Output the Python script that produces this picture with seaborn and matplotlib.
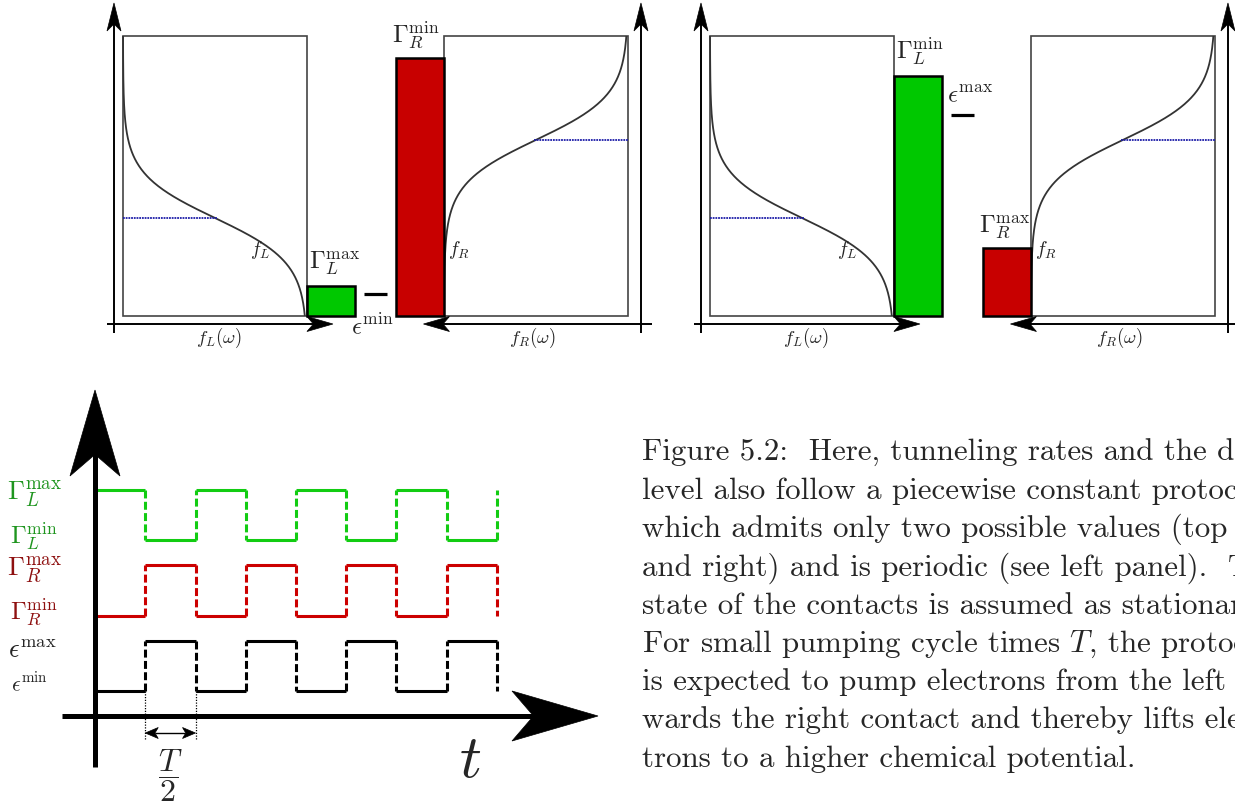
import numpy as np
import pandas as pd
import seaborn as sns
import matplotlib.pyplot as plt
from matplotlib.patches import Polygon, Rectangle
from matplotlib.transforms import IdentityTransform

W, H = 1235, 802

# energy axis of the top panels: 0 = bottom of the box, 1 = top of the box
mu_L = 0.35
mu_R = 0.629
kT = 0.079
gamma_L = [0.107, 0.857]
gamma_R = [0.921, 0.243]
eps_dot = [0.079, 0.718]
gamma_L_tag = ['max', 'min']
gamma_R_tag = ['min', 'max']
eps_tag = ['min', 'max']

# protocol, time in units of T/2
wave_names = ['Gamma_L', 'Gamma_R', 'eps']
wave_low = [3.02, 1.5, 0.0]
wave_high = [4.02, 2.52, 1.0]
wave_starts_high = [True, False, False]
n_half_periods = 8

caption_lines = [
    'Figure 5.2:  Here, tunneling rates and the dot',
    'level also follow a piecewise constant protocol,',
    'which admits only two possible values (top left',
    'and right) and is periodic (see left panel).  The',
    'state of the contacts is assumed as stationary.',
    'For small pumping cycle times $T$, the protocol',
    'is expected to pump electrons from the left to-',
    'wards the right contact and thereby lifts elec-',
    'trons to a higher chemical potential.',
]

sns.set_style('white')
plt.rcParams['mathtext.fontset'] = 'cm'
plt.rcParams['font.family'] = ['cmr10', 'DejaVu Serif']
plt.rcParams['lines.solid_capstyle'] = 'butt'

fig = plt.figure(figsize=(W / 100, H / 100), dpi=100)


def px_axes(x0, y0, w, h):
    ax = fig.add_axes([x0 / W, 1 - (y0 + h) / H, w / W, h / H])
    ax.axis('off')
    return ax


def stealth(ax, tip, direction, length, width, inset=0.75, color='black'):
    # arrow head drawn in pixels so the shape does not depend on the data scale
    tx, ty = ax.transData.transform(tip)
    dx, dy = direction
    nx, ny = -dy, dx
    pts = [(tx, ty),
           (tx - length * dx + width / 2 * nx, ty - length * dy + width / 2 * ny),
           (tx - inset * length * dx, ty - inset * length * dy),
           (tx - length * dx - width / 2 * nx, ty - length * dy - width / 2 * ny)]
    ax.add_patch(Polygon(pts, closed=True, transform=IdentityTransform(),
                         facecolor=color, edgecolor=color, lw=0.5, zorder=6, clip_on=False))


def fermi(omega, mu):
    return 1 / (1 + np.exp((omega - mu) / kT))


# ---------------- top panels ----------------
omega = np.linspace(0, 1, 400)
right_box = 321 / 184
bar_w = 0.262
eps_label_pos = [(1.24, -0.068), (1.29, 0.761)]

for i, box_left in enumerate([123, 710]):
    ax = px_axes(box_left - 23, 0, 560, 345)
    ax.set_xlim(-23 / 184, 537 / 184)
    ax.set_ylim(-29 / 280, 316 / 280)

    ax.add_patch(Rectangle((0, 0), 1, 1, fill=False, ec='#444444', lw=1.2))
    ax.add_patch(Rectangle((right_box, 0), 1, 1, fill=False, ec='#444444', lw=1.2))

    sns.lineplot(x=fermi(omega, mu_L), y=omega, sort=False, estimator=None,
                 color='#333333', lw=1.3, ax=ax)
    sns.lineplot(x=right_box + 1 - fermi(omega, mu_R), y=omega, sort=False, estimator=None,
                 color='#333333', lw=1.3, ax=ax)
    ax.plot([0, 0.51], [mu_L, mu_L], color='#1c1ca8', lw=1.3, ls=(0, (1, 0.5)))
    ax.plot([right_box + 0.49, right_box + 1], [mu_R, mu_R], color='#1c1ca8', lw=1.3,
            ls=(0, (1, 0.5)))

    ax.bar(1.0, gamma_L[i], width=bar_w, align='edge', color='#00c800', ec='black',
           lw=1.8, zorder=3)
    ax.bar(right_box - bar_w, gamma_R[i], width=bar_w, align='edge', color='#c80000',
           ec='black', lw=1.8, zorder=3)
    ax.plot([1.31, 1.435], [eps_dot[i], eps_dot[i]], color='black', lw=2.3)

    # axes of the two contacts
    ax.plot([-0.049, -0.049], [-0.061, 1.06], color='black', lw=1.4)
    ax.plot([2.815, 2.815], [-0.061, 1.06], color='black', lw=1.4)
    ax.plot([-0.087, 1.05], [-0.0286, -0.0286], color='black', lw=1.4)
    ax.plot([2.875, 1.72], [-0.0286, -0.0286], color='black', lw=1.4)
    stealth(ax, (-0.049, 1.118), (0, 1), 28, 14)
    stealth(ax, (2.815, 1.118), (0, 1), 28, 14)
    stealth(ax, (1.141, -0.0286), (1, 0), 26, 15)
    stealth(ax, (1.633, -0.0286), (-1, 0), 26, 15)

    ax.text(0.69, 0.218, r'$f_L$', size=14, va='baseline')
    ax.text(1.766, 0.218, r'$f_R$', size=14, va='baseline')
    ax.text(0.52, -0.096, r'$f_L(\omega)$', size=13.5, ha='center', va='baseline')
    ax.text(2.223, -0.096, r'$f_R(\omega)$', size=13.5, ha='center', va='baseline')
    ax.text(1.012, gamma_L[i] + 0.06, r'$\Gamma_L^{\mathrm{%s}}$' % gamma_L_tag[i],
            size=18, va='baseline')
    ax.text(1.46, gamma_R[i] + 0.055, r'$\Gamma_R^{\mathrm{%s}}$' % gamma_R_tag[i],
            size=18, va='baseline')
    ax.text(*eps_label_pos[i], r'$\epsilon^{\mathrm{%s}}$' % eps_tag[i], size=18,
            va='baseline')

# ---------------- protocol panel ----------------
axb = px_axes(0, 380, 620, 422)
axb.set_xlim(-95 / 50.25, 525 / 50.25)
axb.set_ylim(-111 / 50, 311 / 50)

solid, dashed = [], []
seg = 0
for name, lo, hi, start in zip(wave_names, wave_low, wave_high, wave_starts_high):
    levels = [hi if (k % 2 == 0) == start else lo for k in range(n_half_periods + 1)]
    for k in range(n_half_periods):
        solid += [(k, levels[k], name, seg), (k + 1, levels[k], name, seg)]
        dashed += [(k + 1, levels[k], name, seg), (k + 1, levels[k + 1], name, seg)]
        seg += 1
cols = ['t', 'level', 'signal', 'seg']
solid = pd.DataFrame(solid, columns=cols)
dashed = pd.DataFrame(dashed, columns=cols)
wave_colors = {'Gamma_L': '#12cc12', 'Gamma_R': '#cc0000', 'eps': 'black'}

sns.lineplot(data=solid, x='t', y='level', hue='signal', units='seg', estimator=None,
             sort=False, palette=wave_colors, lw=2.2, legend=False, ax=axb)
sns.lineplot(data=dashed, x='t', y='level', hue='signal', units='seg', estimator=None,
             sort=False, palette=wave_colors, lw=2.2, ls=(0, (2.6, 1.1)), legend=False,
             ax=axb)

axb.plot([0, 0], [-1.52, 4.9], color='black', lw=3.6)
axb.plot([-0.657, 8.9], [-0.5, -0.5], color='black', lw=3.6)
stealth(axb, (0, 6.02), (0, 1), 86, 50)
stealth(axb, (10.01, -0.5), (1, 0), 86, 50)

for t in [1, 2]:
    axb.plot([t, t], [0, -0.98], color='black', lw=0.9, ls=(0, (1, 1.2)))
axb.plot([1.2, 1.8], [-0.84, -0.84], color='black', lw=1.0)
stealth(axb, (1, -0.84), (-1, 0), 13, 11)
stealth(axb, (2, -0.84), (1, 0), 13, 11)
axb.text(1.5, -1.69, r'$\dfrac{T}{2}$', size=23, ha='center', va='center')
axb.text(7.46, -1.72, r'$t$', size=44, ha='center', va='baseline')

green_txt, red_txt = '#1f951f', '#8e1010'
axb.text(-1.75, 3.84, r'$\Gamma_L^{\mathrm{max}}$', size=19.5, color=green_txt, va='baseline')
axb.text(-1.69, 2.92, r'$\Gamma_L^{\mathrm{min}}$', size=18, color=green_txt, va='baseline')
axb.text(-1.75, 2.32, r'$\Gamma_R^{\mathrm{max}}$', size=19.5, color=red_txt, va='baseline')
axb.text(-1.69, 1.42, r'$\Gamma_R^{\mathrm{min}}$', size=18, color=red_txt, va='baseline')
axb.text(-1.73, 0.66, r'$\epsilon^{\mathrm{max}}$', size=19, va='baseline')
axb.text(-1.67, -0.02, r'$\epsilon^{\mathrm{min}}$', size=15.5, va='baseline')

# ---------------- caption ----------------
for i, line in enumerate(caption_lines):
    fig.text(642 / W, 1 - (460.7 + 38.25 * i) / H, line, size=22.35, va='baseline')

fig.savefig('out.png', dpi=100)
